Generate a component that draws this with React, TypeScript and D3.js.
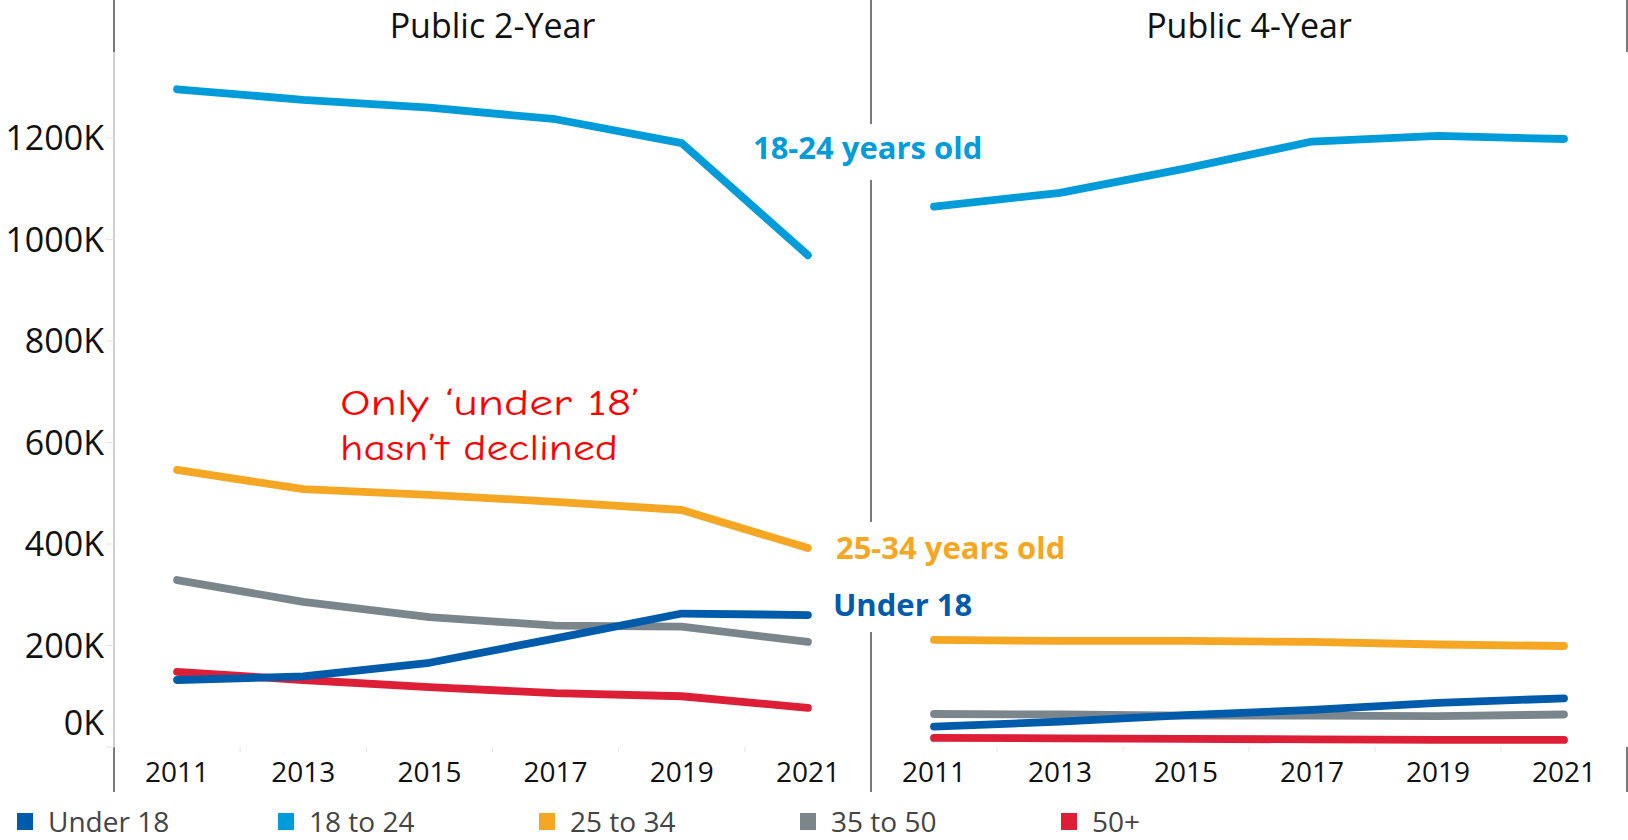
import * as d3 from "d3";

const years = [2011, 2013, 2015, 2017, 2019, 2021];
const panels = ["Public 2-Year", "Public 4-Year"];
const groups = ["Under 18", "18 to 24", "25 to 34", "35 to 50", "50+"];
const colors = ["#005bab", "#009bd9", "#f5a623", "#7b868c", "#dc1f36"];

// values in thousands, one array per panel per group
const under18_2yr = [132, 139, 166, 214, 263, 260];
const age18to24_2yr = [1296, 1275, 1260, 1237, 1190, 969];
const age25to34_2yr = [546, 508, 497, 483, 467, 392];
const age35to50_2yr = [329, 286, 256, 239, 237, 207];
const age50plus_2yr = [148, 132, 118, 106, 100, 77];

const under18_4yr = [40, 50, 63, 73, 87, 96];
const age18to24_4yr = [1065, 1092, 1140, 1193, 1204, 1198];
const age25to34_4yr = [211, 209, 209, 207, 202, 199];
const age35to50_4yr = [65, 64, 62, 62, 61, 64];
const age50plus_4yr = [18, 17, 16, 15, 14, 14];

const yTicks = [0, 200, 400, 600, 800, 1000, 1200];

const W = 1628;
const H = 840;
const font = "'Open Sans', 'Noto Sans', sans-serif";

const seriesByPanel = [
  [under18_2yr, age18to24_2yr, age25to34_2yr, age35to50_2yr, age50plus_2yr],
  [under18_4yr, age18to24_4yr, age25to34_4yr, age35to50_4yr, age50plus_4yr],
];

const paneLeft = 114;
const paneMid = 871;
const paneRight = 1627;
const paneTop = 52;
const paneBottom = 747;
const axisBottom = 792;

const y = d3.scaleLinear().domain([0, 1200]).range([paneBottom, 138]);
const xScales = [
  d3.scalePoint<number>().domain(years).range([paneLeft, paneMid]).padding(0.5),
  d3.scalePoint<number>().domain(years).range([paneMid, paneRight]).padding(0.5),
];

export default function App() {
  const xL = xScales[0];
  const step = xL.step();
  const end2yr = xL(2021) as number;
  // drawing order: last legend item first, so "Under 18" sits on top
  const order = [4, 3, 2, 1, 0];

  return (
    <svg width={W} height={H} style={{ display: "block", position: "absolute", left: 0, top: 0 }} fontFamily={font}>
      <rect width={W} height={H} fill="#fff" />

      {/* panel headers */}
      {panels.map((p, i) => {
        const r = xScales[i].range();
        return (
          <text key={p} x={(r[0] + r[1]) / 2} y={38} textAnchor="middle" fontSize={34} fill="#111">
            {p}
          </text>
        );
      })}

      {/* frame lines */}
      <line x1={paneLeft} x2={paneLeft} y1={0} y2={paneTop} stroke="#222" strokeWidth={1.2} />
      <line x1={paneLeft} x2={paneLeft} y1={paneTop} y2={paneBottom} stroke="#b0b0b0" strokeWidth={1.2} />
      <line x1={paneLeft} x2={paneLeft} y1={paneBottom} y2={axisBottom} stroke="#222" strokeWidth={1.2} />
      <line x1={paneMid} x2={paneMid} y1={0} y2={axisBottom} stroke="#222" strokeWidth={1.2} />
      <line x1={paneRight} x2={paneRight} y1={0} y2={paneTop} stroke="#222" strokeWidth={1.2} />
      <line x1={paneRight} x2={paneRight} y1={paneBottom} y2={axisBottom} stroke="#222" strokeWidth={1.2} />

      {/* y axis */}
      {yTicks.map((t) => (
        <g key={t}>
          <line x1={paneLeft - 8} x2={paneLeft} y1={y(t)} y2={y(t)} stroke="#e4e4e4" strokeWidth={1} />
          <text
            x={104}
            y={Math.min(y(t), y(0) - 24)}
            dy="0.36em"
            textAnchor="end"
            fontSize={34}
            fill="#111"
          >
            {t}K
          </text>
        </g>
      ))}

      {/* x axes */}
      {xScales.map((xs, pi) => (
        <g key={pi}>
          {years.map((yr, i) => (
            <g key={yr}>
              <text x={xs(yr)} y={782} textAnchor="middle" fontSize={28} fill="#111">
                {yr}
              </text>
              {i < years.length - 1 && (
                <line
                  x1={(xs(yr) as number) + step / 2}
                  x2={(xs(yr) as number) + step / 2}
                  y1={paneBottom}
                  y2={paneBottom + 5}
                  stroke="#e4e4e4"
                />
              )}
            </g>
          ))}
        </g>
      ))}

      {/* lines */}
      {seriesByPanel.map((series, pi) => {
        const xs = xScales[pi];
        const line = d3
          .line<number>()
          .x((_, i) => xs(years[i]) as number)
          .y((v) => y(v));
        return (
          <g key={pi}>
            {order.map((gi) => (
              <path
                key={gi}
                d={line(series[gi]) || ""}
                fill="none"
                stroke={colors[gi]}
                strokeWidth={7.8}
                strokeLinecap="round"
                strokeLinejoin="round"
              />
            ))}
          </g>
        );
      })}

      {/* direct labels, on white boxes that hide the pane divider */}
      <rect x={746} y={124} width={244} height={56} fill="#fff" />
      <rect x={828} y={522} width={60} height={110} fill="#fff" />
      <text x={end2yr - 55} y={y(1180)} dy="0.36em" fontSize={31} fontWeight={700} fill={colors[1]}>
        18-24 years old
      </text>
      <text x={end2yr + 28} y={y(392)} dy="0.36em" fontSize={31} fontWeight={700} fill={colors[2]}>
        25-34 years old
      </text>
      <text x={end2yr + 25} y={y(280)} dy="0.36em" fontSize={31} fontWeight={700} fill={colors[0]}>
        Under 18
      </text>

      {/* annotation */}
      <g fontFamily="'Segoe Print', 'Comic Sans MS', 'Comic Neue', cursive" fill="#ff0000" fontSize={36}>
        <text x={340} y={415} textLength={300} lengthAdjust="spacingAndGlyphs">
          Only ‘under 18’
        </text>
        <text x={340} y={460} textLength={278} lengthAdjust="spacingAndGlyphs">
          hasn’t declined
        </text>
      </g>

      {/* legend */}
      {groups.map((g, i) => (
        <g key={g} transform={`translate(${17 + i * 261},813)`}>
          <rect width={16} height={17} fill={colors[i]} />
          <text x={31} y={19} fontSize={28} fill="#444">
            {g}
          </text>
        </g>
      ))}
    </svg>
  );
}
